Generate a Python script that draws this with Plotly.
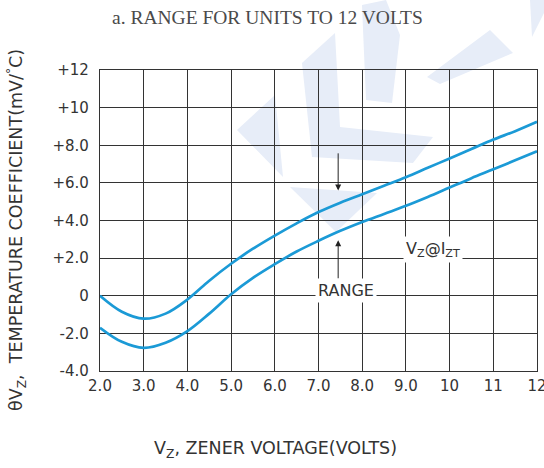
import plotly.graph_objects as go

# ---- data ----
vz = [2.0, 2.5, 3.0, 3.5, 4.0, 4.5, 5.0, 5.5, 6.0, 6.5, 7.0, 7.5, 8.0, 8.5, 9.0, 9.5, 10.0, 10.5, 11.0, 11.5, 12.0]
tc_upper = [0.0, -0.85, -1.22, -0.95, -0.2, 0.8, 1.7, 2.5, 3.2, 3.85, 4.45, 4.95, 5.4, 5.85, 6.3, 6.8, 7.3, 7.8, 8.3, 8.75, 9.25]
tc_lower = [-1.7, -2.45, -2.77, -2.5, -1.88, -0.95, 0.08, 0.95, 1.68, 2.35, 2.92, 3.45, 3.92, 4.35, 4.78, 5.25, 5.75, 6.25, 6.72, 7.2, 7.68]

x_tickvals = [2, 3, 4, 5, 6, 7, 8, 9, 10, 11, 12]
x_ticktext = ["2.0", "3.0", "4.0", "5.0", "6.0", "7.0", "8.0", "9.0", "10", "11", "12"]
y_tickvals = [12, 10, 8, 6, 4, 2, 0, -2, -4]
y_ticktext = ["+12", "+10", "+8.0", "+6.0", "+4.0", "+2.0", "0", "-2.0", "-4.0"]

arrow_x = 7.45
arrow_down = (7.65, 5.6)
arrow_up = (0.85, 2.95)

W, H = 544, 468
L, R, T, B = 100, 7, 70, 97
PW, PH = W - L - R, H - T - B

def px(xp):
    return (xp - L) / PW

def py(yp):
    return (H - B - yp) / PH

CURVE = "#1b9ad6"
GRID = "#333333"
TXT = "#333333"
SANS = "DejaVu Sans, Verdana, sans-serif"

fig = go.Figure()
for ys in (tc_upper, tc_lower):
    fig.add_trace(go.Scatter(x=vz, y=ys, mode="lines",
                             line=dict(color=CURVE, width=2.7, shape="spline", smoothing=1.0),
                             hoverinfo="skip", showlegend=False))

# faint watermark (decorative)
wm = [
    [(237, 130), (275, 95), (283, 177)],
    [(302, 63), (335, 33), (340, 127), (433, 137), (413, 163), (312, 157)],
    [(290, 187), (377, 193), (336, 232)],
    [(362, 5), (386, 0), (400, 35), (392, 103), (366, 100)],
    [(427, 77), (490, 30), (513, 53), (440, 84)],
    [(530, 0), (544, 0), (544, 13), (532, 37)],
]
shapes = []
for poly in wm:
    path = "M " + " L ".join(f"{px(a):.4f},{py(b):.4f}" for a, b in poly) + " Z"
    shapes.append(dict(type="path", xref="paper", yref="paper", path=path,
                       fillcolor="#e7edf8", line=dict(width=0), layer="below"))

annotations = [
    dict(text="a. RANGE FOR UNITS TO 12 VOLTS", xref="paper", yref="paper",
         x=px(267), y=py(18), xanchor="center", yanchor="middle", showarrow=False,
         font=dict(family="Liberation Serif, Times New Roman, serif", size=19.5, color="#4a4a4a")),
    dict(text="V<sub>Z</sub>, ZENER VOLTAGE(VOLTS)", xref="paper", yref="paper",
         x=px(275), y=py(449), xanchor="center", yanchor="middle", showarrow=False,
         font=dict(family=SANS, size=17.5, color=TXT)),
    dict(text="θV<sub>Z</sub>,  TEMPERATURE COEFFICIENT(mV/<sup>°</sup>C)", xref="paper", yref="paper",
         x=px(17), y=py(230), xanchor="center", yanchor="middle", showarrow=False, textangle=-90,
         font=dict(family=SANS, size=17.5, color=TXT)),
    dict(text="RANGE", x=7.64, y=0.3, xref="x", yref="y", showarrow=False,
         bgcolor="white", borderpad=2, font=dict(family=SANS, size=16, color=TXT)),
    dict(text="V<sub>Z</sub>@I<sub>ZT</sub>", x=9.62, y=2.45, xref="x", yref="y", showarrow=False,
         bgcolor="white", borderpad=2, font=dict(family=SANS, size=16, color=TXT)),
    dict(text="", x=arrow_x, y=arrow_down[1], ax=arrow_x, ay=arrow_down[0],
         xref="x", yref="y", axref="x", ayref="y", showarrow=True,
         arrowhead=2, arrowsize=1.2, arrowwidth=1, arrowcolor="#222222"),
    dict(text="", x=arrow_x, y=arrow_up[1], ax=arrow_x, ay=arrow_up[0],
         xref="x", yref="y", axref="x", ayref="y", showarrow=True,
         arrowhead=2, arrowsize=1.2, arrowwidth=1, arrowcolor="#222222"),
]

fig.update_layout(
    width=W, height=H,
    margin=dict(l=L, r=R, t=T, b=B, autoexpand=False),
    paper_bgcolor="white", plot_bgcolor="white",
    shapes=shapes, annotations=annotations,
    xaxis=dict(range=[2, 12], tickvals=x_tickvals, ticktext=x_ticktext,
               showgrid=True, gridcolor=GRID, gridwidth=1.1, zeroline=False,
               showline=True, linecolor=GRID, linewidth=1.2, mirror=True,
               ticks="", ticklabelstandoff=1, ticklabeloverflow="allow",
               tickfont=dict(family=SANS, size=15, color=TXT)),
    yaxis=dict(range=[-4, 12], tickvals=y_tickvals, ticktext=y_ticktext,
               showgrid=True, gridcolor=GRID, gridwidth=1.1, zeroline=False,
               showline=True, linecolor=GRID, linewidth=1.2, mirror=True,
               ticks="", ticklabelstandoff=7,
               tickfont=dict(family=SANS, size=15, color=TXT)),
)

fig.write_html("out.html", config={"displayModeBar": False},
               post_script="document.body.style.margin='0';document.body.style.overflow='hidden';")
